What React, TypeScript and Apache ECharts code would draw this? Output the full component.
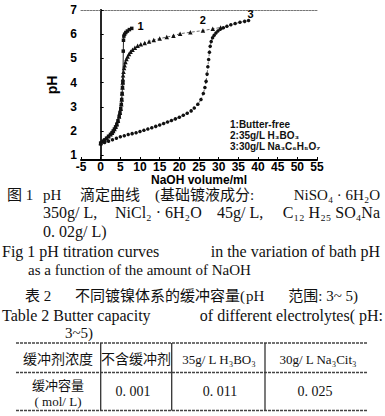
import React, { useEffect, useRef } from "react";
import * as echarts from "echarts";

// ---- data ----
const butterFreeX = [0, 0.5, 1.0, 1.5, 2.0, 2.5, 2.9, 3.2, 3.5, 3.8, 4.1, 4.4, 4.7, 4.9, 5.1, 5.25, 5.35, 5.45, 5.55, 5.65, 5.75, 5.8, 5.9, 6.1, 6.4, 6.8, 7.3, 7.9];
const butterFreeY = [1.5, 1.57, 1.63, 1.7, 1.78, 1.86, 1.93, 2.0, 2.08, 2.17, 2.28, 2.42, 2.6, 2.75, 2.92, 3.1, 3.3, 3.55, 3.8, 4.0, 5.3, 5.75, 5.92, 6.0, 6.07, 6.13, 6.19, 6.24];

const boricX = [0, 0.5, 1.0, 1.5, 2.0, 2.5, 2.9, 3.2, 3.5, 3.8, 4.1, 4.4, 4.7, 4.9, 5.1, 5.25, 5.35, 5.45, 5.55, 5.6, 5.65, 5.7, 5.8, 5.95, 6.1, 6.3, 6.55, 6.85, 7.2, 7.6, 8.1, 8.7, 9.4, 10.2, 11.2, 12.3, 13.5, 15, 16.8, 18.5, 20.2, 22.8, 26, 28.5, 30.5];
const boricY = [1.5, 1.57, 1.63, 1.7, 1.78, 1.86, 1.93, 2.0, 2.08, 2.17, 2.28, 2.42, 2.6, 2.75, 2.92, 3.1, 3.3, 3.55, 3.8, 4.0, 4.15, 4.3, 4.45, 4.6, 4.72, 4.85, 4.97, 5.08, 5.18, 5.27, 5.36, 5.44, 5.52, 5.58, 5.64, 5.7, 5.76, 5.82, 5.88, 5.94, 6.02, 6.08, 6.15, 6.22, 6.28];

const citrateX = [0, 1, 2, 3, 4, 5, 6, 7, 8, 9, 10, 11, 12, 13, 14, 15, 16, 17, 18, 19, 20, 21, 22, 23, 23.8, 24.7, 25.5, 26.1, 26.5, 26.8, 27.05, 27.25, 27.45, 27.65, 27.85, 28.1, 28.45, 28.85, 29.3, 29.8, 30.4, 31.2, 32.1, 33.1, 34.2, 35.4, 36.6, 37.6];
const citrateY = [1.45, 1.52, 1.58, 1.64, 1.7, 1.76, 1.8, 1.85, 1.89, 1.93, 1.98, 2.03, 2.08, 2.13, 2.19, 2.25, 2.31, 2.37, 2.43, 2.5, 2.57, 2.65, 2.73, 2.83, 2.95, 3.1, 3.3, 3.55, 3.8, 4.05, 4.35, 4.65, 4.95, 5.25, 5.5, 5.7, 5.85, 5.96, 6.05, 6.13, 6.2, 6.27, 6.33, 6.39, 6.44, 6.49, 6.53, 6.57];

const curveTags = ["1", "2", "3"];
const curveTagIndex = [butterFreeX.length - 1, 42, citrateX.length - 1];
const legendLines = ["1:Butter-free", "2:35g/L H₃BO₃", "3:30g/L Na₃C₆H₅O₇"];
const yTickValues = [1, 2, 3, 4, 5, 6, 7];

const tableHeader = ["缓冲剂浓度", "不含缓冲剂", "35g/ L H₃BO₃", "30g/ L Na₃Cit₃"];
const tableRowLabel = ["缓冲容量", "( mol/ L)"];
const bufferCapacity = [0.001, 0.011, 0.025];

// ---- styles ----
const SANS_B = "'Liberation Sans', Arial, sans-serif";
const SERIF = "'Liberation Serif', 'Noto Sans CJK SC', serif";

function pairs(xs: number[], ys: number[], tagIdx: number, tag: string, label: any) {
  return xs.map((x, i) =>
    i === tagIdx
      ? { value: [x, ys[i]], label: { show: true, formatter: tag, fontFamily: SANS_B, fontWeight: "bold", fontSize: 11, color: "#000", ...label } }
      : [x, ys[i]]
  );
}

function txt(text: string, x: number, y: number, size: number, align = "left", family = SERIF, weight = "normal") {
  return {
    type: "text",
    x,
    y,
    silent: true,
    style: {
      text,
      fill: "#111",
      font: `${weight} ${size}px ${family}`,
      align,
      textAlign: align,
      verticalAlign: "middle",
      textVerticalAlign: "middle",
    },
  };
}

function hline(x1: number, x2: number, y: number) {
  return {
    type: "line",
    silent: true,
    shape: { x1, y1: y, x2, y2: y },
    style: { stroke: "#444", lineWidth: 1.3, lineDash: [3, 1] },
  };
}
function vline(x: number, y1: number, y2: number) {
  return {
    type: "line",
    silent: true,
    shape: { x1: x, y1, x2: x, y2 },
    style: { stroke: "#333", lineWidth: 1.3 },
  };
}

export default function App() {
  const ref = useRef<HTMLDivElement>(null);
  useEffect(() => {
    if (!ref.current) return;
    const chart = echarts.init(ref.current, null, { renderer: "svg" });
    const fmt = (v: number) => v.toFixed(3).replace(".", ". ");
    const tableTop = 343, tableMid = 372.5, tableBot = 410.5;
    const colX = [16, 100.7, 171.7, 265, 367];
    const headerCenters = [58, 136, 219, 318];
    const valueCenters = [133, 220, 315];

    const option: any = {
      animation: false,
      backgroundColor: "#fff",
      grid: { left: 81, right: 68, top: 10, bottom: 256, containLabel: false },
      xAxis: [
        {
          type: "value",
          min: -5,
          max: 55,
          interval: 5,
          name: "NaOH volume/ml",
          nameLocation: "middle",
          nameGap: 9,
          nameTextStyle: { fontFamily: SANS_B, fontWeight: "bold", fontSize: 12, color: "#000", lineHeight: 12 },
          axisLine: { lineStyle: { color: "#000", width: 2 } },
          axisTick: { show: true, inside: true, length: 3, lineStyle: { color: "#000" } },
          axisLabel: { margin: 1, fontFamily: SANS_B, fontWeight: "bold", fontSize: 12, color: "#000", lineHeight: 12 },
          splitLine: { show: false },
        },
        {
          type: "value",
          position: "top",
          min: -5,
          max: 55,
          axisLine: { show: true, lineStyle: { color: "#777", width: 1, type: [2, 1] } },
          axisTick: { show: false },
          axisLabel: { show: false },
          splitLine: { show: false },
        },
      ],
      yAxis: [
        {
          type: "value",
          min: 0.8,
          max: 7,
          name: "pH",
          nameLocation: "middle",
          nameGap: 14,
          nameTextStyle: { fontFamily: SANS_B, fontWeight: "bold", fontSize: 14, color: "#000" },
          axisLine: { show: true, lineStyle: { color: "#000", width: 2 } },
          axisTick: { show: true, inside: true, length: 3, customValues: yTickValues, lineStyle: { color: "#000" } },
          axisLabel: { margin: 4, customValues: yTickValues, fontFamily: SANS_B, fontWeight: "bold", fontSize: 12, color: "#000" },
          splitLine: { show: false },
        },
        {
          type: "value",
          position: "right",
          min: 0.8,
          max: 7,
          axisLine: { show: true, lineStyle: { color: "#333", width: 1.5 } },
          axisTick: { show: false },
          axisLabel: { show: false },
          splitLine: { show: false },
        },
      ],
      series: [
        {
          name: "Butter-free",
          type: "line",
          data: pairs(butterFreeX, butterFreeY, curveTagIndex[0], curveTags[0], { position: "right", distance: 4, offset: [0, -2] }),
          symbol: "rect",
          symbolSize: 3.5,
          showAllSymbol: true,
          itemStyle: { color: "#111" },
          lineStyle: { color: "#222", width: 1 },
          z: 3,
        },
        {
          name: "H3BO3",
          type: "line",
          data: pairs(boricX, boricY, curveTagIndex[1], curveTags[1], { position: "top", distance: 3 }),
          symbol: "triangle",
          symbolSize: 4.5,
          showAllSymbol: true,
          itemStyle: { color: "#111" },
          lineStyle: { color: "#444", width: 0.8, type: [3, 2] },
          z: 2,
        },
        {
          name: "Na3C6H5O7",
          type: "line",
          data: pairs(citrateX, citrateY, curveTagIndex[2], curveTags[2], { position: "top", distance: 1, offset: [2, 2] }),
          symbol: "circle",
          symbolSize: 3.5,
          showAllSymbol: true,
          itemStyle: { color: "#111" },
          lineStyle: { color: "#444", width: 0.8, type: [2, 2] },
          z: 2,
        },
      ],
      graphic: [
        // legend block inside the plot
        txt(legendLines[0], 230, 124, 10, "left", SANS_B, "bold"),
        txt(legendLines[1], 230, 135, 10, "left", SANS_B, "bold"),
        txt(legendLines[2], 230, 146, 10, "left", SANS_B, "bold"),
        // figure caption
        txt("图 1", 7, 194.5, 15),
        txt("pH", 43, 194.5, 15),
        txt("滴定曲线", 80, 194.5, 15),
        txt("(基础镀液成分:", 155, 194.5, 15),
        txt("NiSO₄ · 6H₂O", 380, 194.5, 15, "right"),
        txt("350g/ L,", 43, 212.5, 16),
        txt("NiCl₂ · 6H₂O", 115, 212.5, 16),
        txt("45g/ L,", 217, 212.5, 16),
        txt("C₁₂ H₂₅ SO₄Na", 380, 212.5, 16, "right"),
        txt("0. 02g/ L)", 43, 231, 16),
        txt("Fig 1 pH titration curves", 2, 251, 16),
        txt("in the variation of bath pH", 380, 251, 16, "right"),
        txt("as a function of the amount of NaOH", 28, 270, 15),
        // table caption
        txt("表 2", 25, 296, 15),
        txt("不同镀镍体系的缓冲容量(", 75, 296, 15),
        txt("pH", 246, 296, 15),
        txt("范围: 3~ 5)", 358, 296, 15, "right"),
        txt("Table 2 Butter capacity", 2, 315, 16),
        txt("of different electrolytes( pH:", 383, 315, 16, "right"),
        txt("3~5)", 65, 333, 15),
        // table
        hline(colX[0], colX[4], tableTop),
        hline(colX[0], colX[4], tableMid),
        hline(colX[0], colX[4], tableBot),
        vline(colX[1], tableTop, tableBot),
        vline(colX[2], tableTop, tableBot),
        vline(colX[3], tableTop, tableBot),
        ...tableHeader.map((h, i) => txt(h, headerCenters[i], 359, i < 2 ? 14 : 13, "center")),
        txt(tableRowLabel[0], 58, 385, 13, "center"),
        txt(tableRowLabel[1], 58, 401, 13, "center"),
        ...bufferCapacity.map((v, i) => txt(fmt(v), valueCenters[i], 391, 14, "center")),
      ],
    };
    chart.setOption(option);
    return () => chart.dispose();
  }, []);
  return (
    <div
      ref={ref}
      style={{ position: "absolute", left: 0, top: 0, width: 385, height: 416, background: "#fff" }}
    />
  );
}
